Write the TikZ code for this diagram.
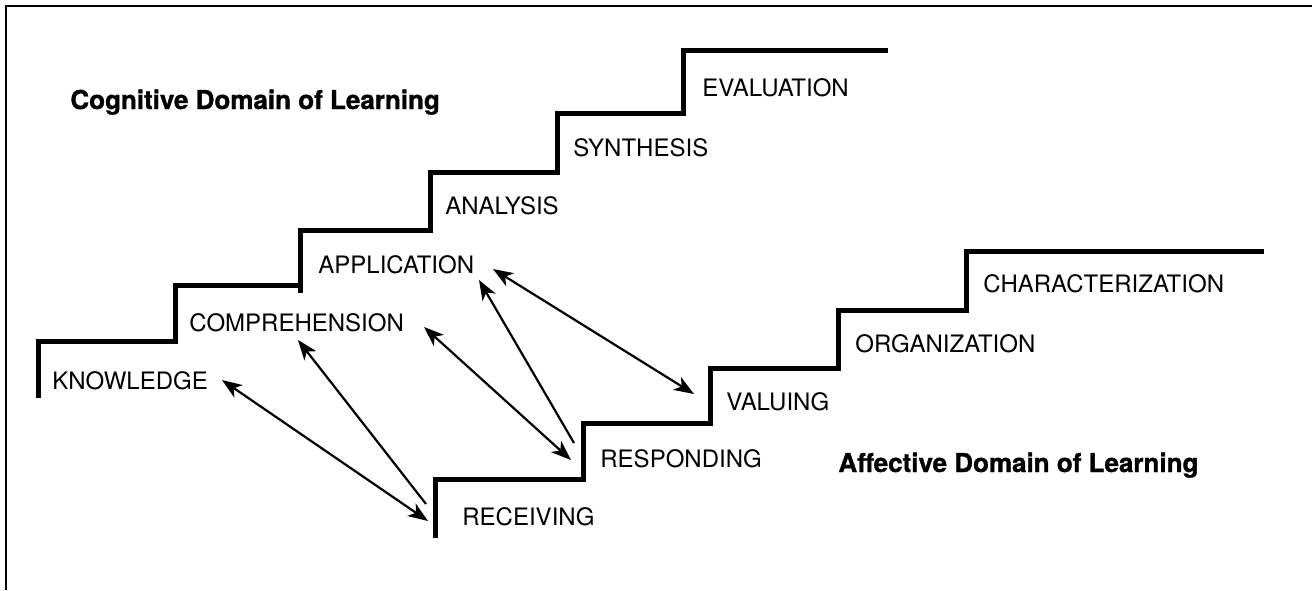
\documentclass[tikz,border=0pt]{standalone}
\usepackage{fontspec}
\setmainfont{TeX Gyre Heros}
\newfontfamily\heavyfont[FakeBold=1.2]{TeX Gyre Heros Bold}
\usepackage{tkz-euclide}
\usetikzlibrary{arrows.meta}
\tikzset{>=stealth}
\tikzset{
  borderline/.style={line width=1pt},
  stair/.style={line width=2.5pt, line join=miter, line cap=butt},
  steplabel/.style={anchor=base west, inner sep=0pt, font=\fontsize{12}{14}\selectfont},
  domainlabel/.style={anchor=base west, inner sep=0pt, font=\fontsize{13}{15}\heavyfont},
  link/.style={line width=1.1pt, >={Stealth[length=10pt, width=7.5pt, inset=2.8pt]}}
}

\begin{document}
\begin{tikzpicture}[x=0.5pt, y=-0.5pt]
    \useasboundingbox (0,0) rectangle (1312,590);
    \draw[borderline] (6,590) -- (6,6) -- (1312,6);
    \tkzDefPoints{38/398/c0, 38/341/c1, 175/341/c2, 175/285/c3, 300/285/c4,
      300/293/c5, 300/230/c6, 430/230/c7, 430/172/c8, 557/172/c9,
      557/113/c10, 683/113/c11, 683/50/c12, 888/50/c13}
    \tkzDefPoints{435/538/f0, 435/479/f1, 583/479/f2, 583/423/f3, 710/423/f4,
      710/368/f5, 838/368/f6, 838/310/f7, 966/310/f8, 966/251/f9, 1264/251/f10}
    \tkzDrawPolySeg[stair](c0,c1,c2,c3,c4)
    \tkzDrawPolySeg[stair](c5,c6,c7,c8,c9,c10,c11,c12,c13)
    \tkzDrawPolySeg[stair](f0,f1,f2,f3,f4,f5,f6,f7,f8,f9,f10)
    \node[domainlabel] (cogn) at (70,109) {Cognitive Domain of Learning};
    \node[domainlabel] (affe) at (838,472) {Affective Domain of Learning};
    \node[steplabel] (know) at (52,389) {KNOWLEDGE};
    \node[steplabel] (comp) at (189,331) {COMPREHENSION};
    \node[steplabel] (appl) at (318,273) {APPLICATION};
    \node[steplabel] (anal) at (445,214) {ANALYSIS};
    \node[steplabel] (synt) at (573,156) {SYNTHESIS};
    \node[steplabel] (eval) at (702,96) {EVALUATION};
    \node[steplabel] (rece) at (462,525) {RECEIVING};
    \node[steplabel] (resp) at (600,467) {RESPONDING};
    \node[steplabel] (valu) at (726,410) {VALUING};
    \node[steplabel] (orga) at (855,352) {ORGANIZATION};
    \node[steplabel] (char) at (983,292) {CHARACTERIZATION};
    \tkzDefPoints{222/380/k1, 428/521/r1, 426/504/r2, 298/340/m1, 424/327/m2,
      571/460/s1, 574/443/s2, 479/280/p1, 493/269/p2, 694/394/v1}
    \draw[link, <->] (k1) -- (r1);
    \draw[link, ->] (r2) -- (m1);
    \draw[link, <->] (m2) -- (s1);
    \draw[link, ->] (s2) -- (p1);
    \draw[link, <->] (p2) -- (v1);
\end{tikzpicture}
\end{document}
